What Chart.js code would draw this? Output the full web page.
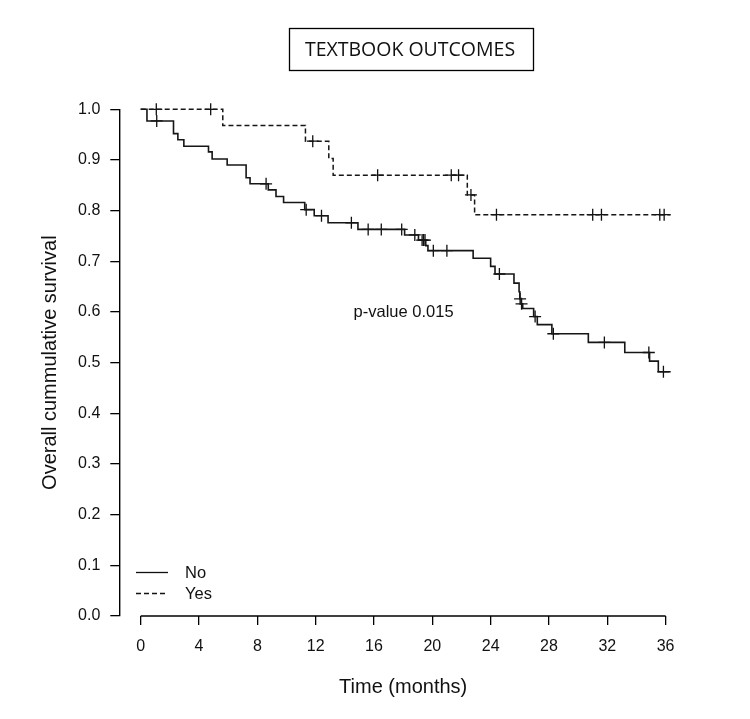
<!DOCTYPE html>
<html>
<head>
<meta charset="utf-8">
<script src="https://cdn.jsdelivr.net/npm/chart.js@4"></script>
<style>
  body { margin: 0; background: #fff; }
  canvas { display: block; }
</style>
</head>
<body>
<canvas id="kmChart" width="750" height="719" style="width:750px;height:719px"></canvas>
<script>
// Kaplan-Meier values (time in months, survival after each step)
const noTimes = [0, 0.43, 2.25, 2.55, 2.96, 4.65, 4.9, 5.93, 7.23, 7.5, 8.75, 9.28, 9.8, 11.25, 11.9, 12.85, 14.9, 18.1, 19.05, 19.55, 19.7, 22.8, 24.0, 24.3, 25.6, 25.95, 26.0, 26.1, 26.2, 26.95, 27.2, 28.2, 30.7, 33.2, 34.9, 35.5, 36.35];
const noSurv = [1, 0.977, 0.952, 0.940, 0.927, 0.916, 0.902, 0.890, 0.865, 0.853, 0.841, 0.828, 0.816, 0.802, 0.790, 0.776, 0.763, 0.752, 0.742, 0.731, 0.721, 0.706, 0.690, 0.675, 0.657, 0.640, 0.626, 0.616, 0.607, 0.591, 0.575, 0.557, 0.540, 0.520, 0.503, 0.482, 0.482];
const noCensor = [1.1, 8.6, 11.35, 12.4, 14.45, 15.6, 16.5, 17.9, 18.8, 19.3, 19.4, 19.5, 20.07, 21.0, 24.6, 26.02, 26.12, 27.05, 28.3, 31.8, 34.85, 35.85];

const yesTimes = [0, 5.63, 11.3, 12.9, 13.2, 22.4, 22.9, 36.35];
const yesSurv = [1, 0.968, 0.937, 0.903, 0.870, 0.831, 0.792, 0.792];
const yesCensor = [1.07, 4.8, 11.8, 16.25, 21.3, 21.8, 22.65, 24.4, 31.0, 31.6, 35.6, 35.9];

const seriesNames = ['No', 'Yes'];
const xTicks = [0, 4, 8, 12, 16, 20, 24, 28, 32, 36];
const yTicks = [0, 0.1, 0.2, 0.3, 0.4, 0.5, 0.6, 0.7, 0.8, 0.9, 1.0];
const chartTitle = 'TEXTBOOK OUTCOMES';
const pValueText = 'p-value 0.015';

const FONT = "'Liberation Sans', Arial, sans-serif";

function stepPoints(times, surv) {
  return times.map((t, i) => ({ x: t, y: surv[i] }));
}

// survival value of the curve at a censoring time
function survivalAt(times, surv, t) {
  let s = 1;
  for (let i = 0; i < times.length; i++) {
    if (times[i] <= t) s = surv[i];
  }
  return s;
}

function censorPoints(censor, times, surv) {
  return censor.map(t => ({ x: t, y: survivalAt(times, surv, t) }));
}

// title box, x axis line, legend and p-value
const decorations = {
  id: 'decorations',
  afterDraw(chart) {
    const ctx = chart.ctx;
    const xs = chart.scales.x, ys = chart.scales.y;
    ctx.save();

    // x axis line only from 0 to 36, like R's axis()
    ctx.strokeStyle = '#000';
    ctx.lineWidth = 1.4;
    ctx.beginPath();
    ctx.moveTo(xs.getPixelForValue(xTicks[0]), chart.chartArea.bottom);
    ctx.lineTo(xs.getPixelForValue(xTicks[xTicks.length - 1]), chart.chartArea.bottom);
    ctx.stroke();

    // title in a box
    ctx.lineWidth = 1.3;
    ctx.strokeRect(289.5, 28.5, 244, 42);
    ctx.fillStyle = '#111';
    ctx.font = "19.5px 'Open Sans', sans-serif";
    ctx.textAlign = 'center';
    ctx.textBaseline = 'middle';
    ctx.fillText(chartTitle, 410, 50);

    // p-value
    ctx.font = '16.5px ' + FONT;
    ctx.textAlign = 'left';
    ctx.fillText(pValueText, xs.getPixelForValue(14.6), ys.getPixelForValue(0.6));

    // legend
    ctx.font = '16.5px ' + FONT;
    ctx.lineWidth = 1.3;
    ctx.strokeStyle = '#111';
    ctx.beginPath();
    ctx.moveTo(136, 572.5);
    ctx.lineTo(168, 572.5);
    ctx.stroke();
    ctx.setLineDash([5, 3]);
    ctx.beginPath();
    ctx.moveTo(136, 593.5);
    ctx.lineTo(168, 593.5);
    ctx.stroke();
    ctx.setLineDash([]);
    ctx.fillText(seriesNames[0], 185, 573);
    ctx.fillText(seriesNames[1], 185, 594);

    ctx.restore();
  }
};

new Chart(document.getElementById('kmChart'), {
  type: 'line',
  data: {
    datasets: [
      {
        label: seriesNames[0],
        data: stepPoints(noTimes, noSurv),
        stepped: 'before',
        borderColor: '#161616',
        borderWidth: 1.6,
        pointRadius: 0,
        fill: false,
        clip: false
      },
      {
        label: seriesNames[1],
        data: stepPoints(yesTimes, yesSurv),
        stepped: 'before',
        borderColor: '#161616',
        borderWidth: 1.5,
        borderDash: [5, 3],
        pointRadius: 0,
        fill: false,
        clip: false
      },
      {
        label: seriesNames[0] + ' censored',
        data: censorPoints(noCensor, noTimes, noSurv),
        showLine: false,
        pointStyle: 'cross',
        pointRadius: 6,
        pointBorderWidth: 1.3,
        borderColor: '#111',
        clip: false
      },
      {
        label: seriesNames[1] + ' censored',
        data: censorPoints(yesCensor, yesTimes, yesSurv),
        showLine: false,
        pointStyle: 'cross',
        pointRadius: 6,
        pointBorderWidth: 1.3,
        borderColor: '#111',
        clip: false
      }
    ]
  },
  options: {
    responsive: false,
    devicePixelRatio: 1,
    animation: false,
    layout: { padding: { top: 109.3, left: 0, right: 63, bottom: 0 } },
    plugins: {
      legend: { display: false },
      tooltip: { enabled: false }
    },
    scales: {
      x: {
        type: 'linear',
        min: -1.467,
        max: 37.467,
        afterBuildTicks: s => { s.ticks = xTicks.map(v => ({ value: v })); },
        afterFit: s => { s.height = 103; },
        border: { display: false },
        grid: { drawOnChartArea: false, drawTicks: true, tickLength: 9, color: '#000', lineWidth: 1.3 },
        ticks: { color: '#111', font: { family: FONT, size: 16 }, padding: 12, maxRotation: 0, autoSkip: false },
        title: {
          display: true,
          text: 'Time (months)',
          color: '#111',
          font: { family: FONT, size: 20 },
          padding: { top: 0, bottom: 20 }
        }
      },
      y: {
        type: 'linear',
        min: 0,
        max: 1,
        afterBuildTicks: s => { s.ticks = yTicks.map(v => ({ value: v })); },
        afterFit: s => { s.width = 119.3; },
        border: { display: true, color: '#000', width: 1.4 },
        grid: { drawOnChartArea: false, drawTicks: true, tickLength: 9, color: '#000', lineWidth: 1.3 },
        ticks: { color: '#111', font: { family: FONT, size: 16 }, padding: 10, callback: v => v.toFixed(1) },
        title: {
          display: true,
          text: 'Overall cummulative survival',
          color: '#111',
          font: { family: FONT, size: 20 },
          padding: { top: 38, bottom: 0 }
        }
      }
    }
  },
  plugins: [decorations]
});
</script>
</body>
</html>
